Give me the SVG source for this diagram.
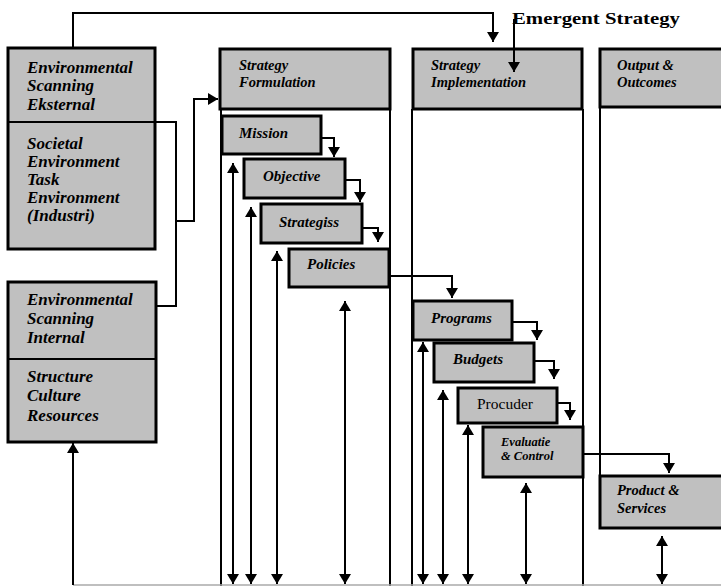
<svg xmlns="http://www.w3.org/2000/svg" width="721" height="586" viewBox="0 0 721 586">
<style>
.box{fill:#c0c0c0;stroke:#000;stroke-width:3}
.col{fill:none;stroke:#000;stroke-width:2}
.c{fill:none;stroke:#000;stroke-width:2}
.t{font-family:"Liberation Serif","Times New Roman",serif;font-weight:bold;font-style:italic;fill:#000}
.big{font-size:17px}
.mid{font-size:15px}
.sm{font-size:14.5px}
</style>
<defs>
<marker id="ah" viewBox="0 0 10 12" refX="10" refY="6" markerWidth="10" markerHeight="12" markerUnits="userSpaceOnUse" orient="auto-start-reverse">
<path d="M0,0 L10,6 L0,12 z" fill="#000"/>
</marker>
</defs>
<rect width="721" height="586" fill="#fff"/>
<g id="columns">
<line class="col" x1="221" y1="109" x2="221" y2="586"/>
<line class="col" x1="390" y1="109" x2="390" y2="586"/>
<line class="col" x1="412" y1="109" x2="412" y2="586"/>
<line class="col" x1="583" y1="109" x2="583" y2="586"/>
<line class="col" x1="600" y1="107" x2="600" y2="476"/>
<line x1="73" y1="585" x2="721" y2="585" stroke="#aaa" stroke-width="1.5"/>
</g>
<g id="emergent-label">
<text x="512" y="24" font-family="'Liberation Serif','Times New Roman',serif" font-weight="bold" font-size="17" textLength="168" lengthAdjust="spacingAndGlyphs">Emergent Strategy</text>
</g>
<g id="env-external">
<rect class="box" x="8" y="48" width="147" height="201"/>
<line x1="8" y1="122" x2="155" y2="122" stroke="#000" stroke-width="2"/>
<text class="t big" x="27" y="73">Environmental</text>
<text class="t big" x="27" y="91">Scanning</text>
<text class="t big" x="27" y="110">Eksternal</text>
<text class="t big" x="27" y="149">Societal</text>
<text class="t big" x="27" y="167">Environment</text>
<text class="t big" x="27" y="185">Task</text>
<text class="t big" x="27" y="203">Environment</text>
<text class="t big" x="27" y="221">(Industri)</text>
</g>
<g id="env-internal">
<rect class="box" x="8" y="282" width="148" height="160"/>
<line x1="8" y1="359" x2="156" y2="359" stroke="#000" stroke-width="2"/>
<text class="t big" x="27" y="305">Environmental</text>
<text class="t big" x="27" y="324">Scanning</text>
<text class="t big" x="27" y="343">Internal</text>
<text class="t big" x="27" y="382">Structure</text>
<text class="t big" x="27" y="401">Culture</text>
<text class="t big" x="27" y="421">Resources</text>
</g>
<g id="strategy-formulation">
<rect class="box" x="220" y="49" width="170" height="60"/>
<text class="t sm" x="239" y="70">Strategy</text>
<text class="t sm" x="239" y="87">Formulation</text>
</g>
<g id="strategy-implementation">
<rect class="box" x="413" y="49" width="169" height="60"/>
<text class="t sm" x="431" y="70">Strategy</text>
<text class="t sm" x="431" y="87">Implementation</text>
</g>
<g id="output-outcomes">
<rect class="box" x="600" y="49" width="130" height="58"/>
<text class="t sm" x="617" y="70">Output &amp;</text>
<text class="t sm" x="617" y="87">Outcomes</text>
</g>
<g id="mission">
<rect class="box" x="222" y="116" width="99" height="38"/>
<text class="t mid" x="239" y="138">Mission</text>
</g>
<g id="objective">
<rect class="box" x="244" y="159" width="101" height="39"/>
<text class="t mid" x="263" y="181">Objective</text>
</g>
<g id="strategiss">
<rect class="box" x="261" y="204" width="101" height="39"/>
<text class="t mid" x="279" y="227">Strategiss</text>
</g>
<g id="policies">
<rect class="box" x="289" y="249" width="100" height="38"/>
<text class="t mid" x="307" y="269">Policies</text>
</g>
<g id="programs">
<rect class="box" x="413" y="301" width="99" height="39"/>
<text class="t mid" x="431" y="323">Programs</text>
</g>
<g id="budgets">
<rect class="box" x="434" y="343" width="100" height="39"/>
<text class="t mid" x="453" y="364">Budgets</text>
</g>
<g id="procuder">
<rect class="box" x="458" y="388" width="99" height="35"/>
<text x="477" y="409" font-family="'Liberation Serif','Times New Roman',serif" font-size="15.5">Procuder</text>
</g>
<g id="evaluatie-control">
<rect class="box" x="483" y="427" width="100" height="50"/>
<text class="t" font-size="12.5" x="501" y="446">Evaluatie</text>
<text class="t" font-size="12.5" x="501" y="460">&amp; Control</text>
</g>
<g id="product-services">
<rect class="box" x="600" y="476" width="130" height="52"/>
<text class="t sm" x="617" y="495">Product &amp;</text>
<text class="t sm" x="617" y="513">Services</text>
</g>
<g id="connectors">
<path class="c" d="M73,48 V13 H493 V42" marker-end="url(#ah)"/>
<path class="c" d="M514,19 V72" marker-end="url(#ah)"/>
<path class="c" d="M155,122 H176 V306 H156"/>
<path class="c" d="M176,221 H194 V99 H218" marker-end="url(#ah)"/>
<path class="c" d="M321,138 H334 V157" marker-end="url(#ah)"/>
<path class="c" d="M345,180 H360 V202" marker-end="url(#ah)"/>
<path class="c" d="M362,228 H378 V242" marker-end="url(#ah)"/>
<path class="c" d="M389,276 H452 V298" marker-end="url(#ah)"/>
<path class="c" d="M512,322 H537 V340" marker-end="url(#ah)"/>
<path class="c" d="M534,361 H554 V379" marker-end="url(#ah)"/>
<path class="c" d="M557,403 H570 V420" marker-end="url(#ah)"/>
<path class="c" d="M583,454 H669 V473" marker-end="url(#ah)"/>
<path class="c" d="M73,585 V443" marker-end="url(#ah)"/>
<path class="c" d="M233,163 V584" marker-start="url(#ah)" marker-end="url(#ah)"/>
<path class="c" d="M251,207 V584" marker-start="url(#ah)" marker-end="url(#ah)"/>
<path class="c" d="M277,251 V584" marker-start="url(#ah)" marker-end="url(#ah)"/>
<path class="c" d="M345,301 V584" marker-start="url(#ah)" marker-end="url(#ah)"/>
<path class="c" d="M423,342 V584" marker-start="url(#ah)" marker-end="url(#ah)"/>
<path class="c" d="M443,390 V584" marker-start="url(#ah)" marker-end="url(#ah)"/>
<path class="c" d="M468,425 V584" marker-start="url(#ah)" marker-end="url(#ah)"/>
<path class="c" d="M526,483 V584" marker-start="url(#ah)" marker-end="url(#ah)"/>
<path class="c" d="M662,536 V584" marker-start="url(#ah)" marker-end="url(#ah)"/>
</g>
</svg>
